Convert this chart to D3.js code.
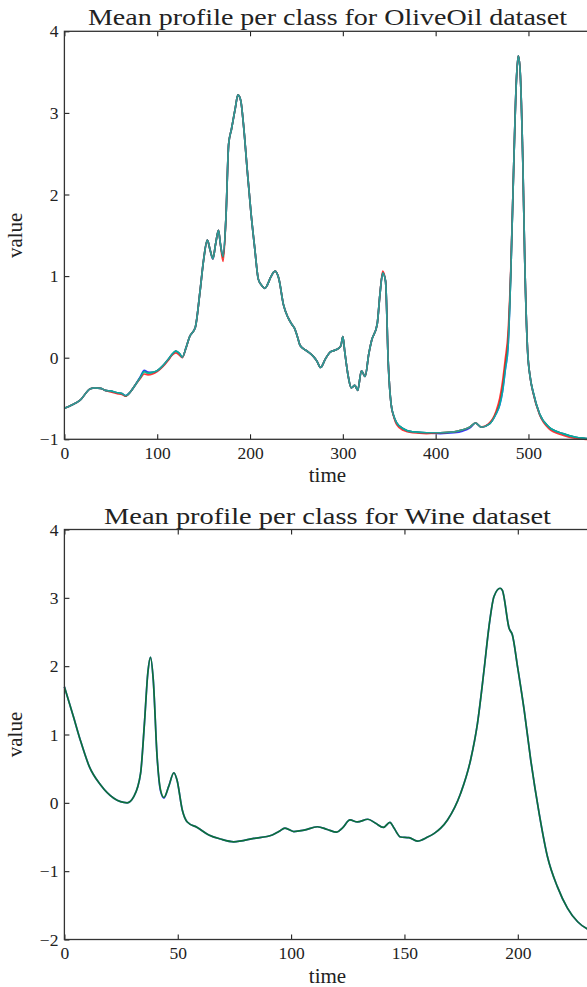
<!DOCTYPE html>
<html>
<head>
<meta charset="utf-8">
<script src="https://cdn.jsdelivr.net/npm/d3@7/dist/d3.min.js"></script>
<style>
  body { margin: 0; background: #fff; }
  svg { display: block; }
</style>
</head>
<body>
<svg id="chart" width="587" height="987"></svg>
<script>
// ---- OliveOil: mean spectrum of each class (4 classes) ----
const oliveTime = [0,8,17,28,33,39,44,50,57,62,
  66,71,76,82,86,90,95,100,106,112,
  116,120,124,127,131,135,141,146,150,154,
  157,160,163,166,168,171,174,177,180,184,
  187,190,193,197,201,205,209,213,216,219,
  222,227,231,236,241,245,248,251,254,261,
  268,272,276,281,286,291,295,298,300,302,
  306,309,313,316,320,324,328,331,337,340,
  343,346,349,352,355,358,365,375,390,405,
  420,429,437,443,449,458,465,469,472,475,
  478,481,484,487,489,491,494,496,499,502,
  505,512,522,537,551,562,569];

const oliveClass1 = [-0.62,-0.58,-0.52,-0.38,-0.37,-0.375,-0.40,-0.41,-0.43,-0.44,
  -0.465,-0.42,-0.34,-0.23,-0.155,-0.175,-0.18,-0.16,-0.10,-0.02,
  0.04,0.08,0.05,0.005,0.12,0.26,0.37,0.80,1.20,1.44,
  1.32,1.21,1.40,1.56,1.40,1.24,1.70,2.62,2.80,3.05,
  3.22,3.15,2.85,2.30,1.78,1.35,0.96,0.88,0.85,0.90,
  0.98,1.06,0.97,0.65,0.49,0.41,0.36,0.26,0.15,0.085,
  0.02,-0.04,-0.12,-0.02,0.065,0.09,0.11,0.15,0.26,0.08,
  -0.24,-0.37,-0.34,-0.40,-0.16,-0.23,0.05,0.21,0.41,0.78,
  1.04,0.94,-0.08,-0.57,-0.72,-0.80,-0.87,-0.91,-0.92,-0.93,
  -0.92,-0.90,-0.86,-0.80,-0.85,-0.81,-0.69,-0.58,-0.42,-0.15,
  0.13,1.05,2.30,3.40,3.70,3.52,2.37,1.20,0.10,-0.25,
  -0.42,-0.69,-0.85,-0.93,-0.975,-0.99,-1.0];

const oliveClass2 = [-0.62,-0.58,-0.52,-0.38,-0.37,-0.375,-0.40,-0.41,-0.43,-0.44,
  -0.47,-0.42,-0.34,-0.24,-0.17,-0.19,-0.18,-0.16,-0.10,-0.02,
  0.04,0.08,0.05,0.005,0.12,0.26,0.37,0.80,1.20,1.44,
  1.32,1.22,1.40,1.56,1.40,1.23,1.70,2.62,2.80,3.05,
  3.22,3.15,2.85,2.30,1.78,1.35,0.96,0.88,0.85,0.90,
  0.98,1.06,0.97,0.65,0.49,0.41,0.36,0.26,0.15,0.085,
  0.02,-0.04,-0.12,-0.02,0.065,0.09,0.11,0.15,0.26,0.08,
  -0.24,-0.37,-0.34,-0.40,-0.16,-0.23,0.05,0.21,0.41,0.78,
  1.04,0.94,-0.08,-0.57,-0.72,-0.80,-0.87,-0.91,-0.92,-0.92,
  -0.91,-0.885,-0.85,-0.80,-0.85,-0.81,-0.68,-0.56,-0.38,-0.10,
  0.20,1.05,2.30,3.40,3.70,3.52,2.37,1.20,0.10,-0.25,
  -0.42,-0.69,-0.85,-0.93,-0.975,-0.99,-1.0];

const oliveClass3 = [-0.62,-0.58,-0.52,-0.38,-0.37,-0.375,-0.40,-0.42,-0.44,-0.45,
  -0.47,-0.42,-0.34,-0.25,-0.20,-0.21,-0.20,-0.17,-0.11,-0.03,
  0.03,0.06,0.03,0.0,0.12,0.26,0.37,0.80,1.20,1.44,
  1.32,1.21,1.40,1.56,1.40,1.18,1.70,2.62,2.80,3.05,
  3.22,3.15,2.85,2.30,1.78,1.35,0.96,0.88,0.85,0.90,
  0.98,1.06,0.97,0.65,0.49,0.41,0.36,0.26,0.15,0.085,
  0.02,-0.04,-0.12,-0.02,0.065,0.09,0.11,0.15,0.26,0.08,
  -0.24,-0.37,-0.34,-0.40,-0.16,-0.23,0.05,0.21,0.41,0.78,
  1.06,0.94,-0.08,-0.57,-0.73,-0.82,-0.89,-0.92,-0.93,-0.92,
  -0.91,-0.885,-0.85,-0.80,-0.85,-0.80,-0.66,-0.50,-0.30,-0.02,
  0.30,1.10,2.30,3.40,3.70,3.52,2.37,1.20,0.10,-0.25,
  -0.43,-0.70,-0.87,-0.95,-0.99,-1.0,-1.0];

const oliveClass4 = [-0.62,-0.58,-0.52,-0.38,-0.37,-0.375,-0.40,-0.41,-0.43,-0.44,
  -0.465,-0.42,-0.34,-0.24,-0.17,-0.19,-0.18,-0.16,-0.10,-0.02,
  0.04,0.08,0.05,0.005,0.12,0.26,0.37,0.80,1.20,1.44,
  1.32,1.21,1.40,1.56,1.40,1.24,1.70,2.62,2.80,3.05,
  3.22,3.15,2.85,2.30,1.78,1.35,0.96,0.88,0.85,0.90,
  0.98,1.06,0.97,0.65,0.49,0.41,0.36,0.26,0.15,0.085,
  0.02,-0.04,-0.12,-0.02,0.065,0.09,0.11,0.15,0.26,0.08,
  -0.24,-0.37,-0.34,-0.40,-0.16,-0.23,0.05,0.21,0.41,0.78,
  1.04,0.94,-0.08,-0.57,-0.72,-0.80,-0.87,-0.91,-0.92,-0.92,
  -0.91,-0.885,-0.85,-0.80,-0.85,-0.81,-0.69,-0.58,-0.42,-0.15,
  0.13,1.05,2.30,3.40,3.70,3.52,2.37,1.20,0.10,-0.25,
  -0.42,-0.69,-0.85,-0.93,-0.975,-0.99,-1.0];

// ---- Wine: mean spectrum of each class (2 classes) ----
const wineTime = [0,4,7,11,16,21.8,27.7,30.6,33.6,35.3,
  36.8,38,39.2,40.9,42.4,43.9,46,48.3,49.7,52,
  54.2,58.6,63.7,68.9,74.7,83.6,91.7,94.6,97.3,101.2,
  105.7,111.6,116,120.1,122.6,126,129.2,133.9,137.3,140.7,
  143.6,145.4,148.3,152,155.7,160,163,166,169,174.8,
  179.2,182.2,185.1,187.3,189.5,192.2,193.2,196.2,197.6,199.9,
  202.8,205.7,209.4,213.1,217.5,221.9,226.4,230.9,233];

const wineClass1 = [1.70,1.26,0.92,0.53,0.26,0.066,0.0,0.09,0.43,1.16,
  1.90,2.13,1.80,0.67,0.175,0.07,0.24,0.44,0.33,-0.105,
  -0.28,-0.36,-0.47,-0.53,-0.57,-0.52,-0.47,-0.42,-0.37,-0.42,
  -0.40,-0.35,-0.39,-0.43,-0.37,-0.25,-0.28,-0.24,-0.30,-0.36,
  -0.285,-0.37,-0.50,-0.51,-0.56,-0.505,-0.45,-0.37,-0.25,0.14,
  0.63,1.16,1.94,2.58,3.02,3.14,3.11,2.55,2.46,1.99,
  1.36,0.63,-0.15,-0.79,-1.23,-1.54,-1.74,-1.85,-1.88];

const wineClass2 = [1.70,1.26,0.92,0.53,0.26,0.066,0.0,0.09,0.43,1.16,
  1.90,2.13,1.80,0.67,0.19,0.08,0.24,0.44,0.33,-0.105,
  -0.28,-0.36,-0.47,-0.53,-0.57,-0.52,-0.47,-0.42,-0.37,-0.42,
  -0.40,-0.35,-0.39,-0.43,-0.37,-0.25,-0.28,-0.24,-0.30,-0.36,
  -0.285,-0.37,-0.50,-0.51,-0.56,-0.505,-0.45,-0.37,-0.25,0.14,
  0.63,1.16,1.94,2.58,3.02,3.14,3.11,2.55,2.46,1.99,
  1.36,0.63,-0.15,-0.79,-1.23,-1.54,-1.74,-1.85,-1.88];

// ---- tick values ----
const oliveXTicks = [0, 100, 200, 300, 400, 500];
const oliveYTicks = [-1, 0, 1, 2, 3, 4];
const wineXTicks = [0, 50, 100, 150, 200];
const wineYTicks = [-2, -1, 0, 1, 2, 3, 4];

// class colours in plotting order
const classColors = ["#0000ff", "#008000", "#ff0000", "#00bfbf"];

const FONT = '"Liberation Serif", "Times New Roman", serif';
const svg = d3.select("#chart");
const fmt = (d) => (d < 0 ? "\u2212" + Math.abs(d) : String(d));

function drawPanel(cfg) {
  const x = d3.scaleLinear().domain(cfg.xDomain).range([cfg.left, cfg.right]);
  const y = d3.scaleLinear().domain(cfg.yDomain).range([cfg.bottom, cfg.top]);
  const g = svg.append("g");

  const line = d3.line()
    .x((d) => x(d[0]))
    .y((d) => y(d[1]))
    .curve(d3.curveMonotoneX);

  // semi-transparent strokes so overlapping class means blend together
  cfg.series.forEach((vals, i) => {
    g.append("path")
      .datum(cfg.time.map((t, j) => [t, vals[j]]))
      .attr("d", line)
      .attr("fill", "none")
      .attr("stroke", classColors[i])
      .attr("stroke-opacity", 0.78)
      .attr("stroke-width", 1.7)
      .attr("stroke-linejoin", "round");
  });

  const tickLen = 5;
  const styleAxis = (sel) => {
    sel.select(".domain").remove();
    sel.selectAll(".tick line").attr("stroke", "#222").attr("stroke-width", 1.1);
    sel.selectAll(".tick text")
      .attr("fill", "#222")
      .style("font-family", FONT)
      .style("font-size", "17.5px");
  };

  g.append("g").attr("transform", `translate(0,${cfg.bottom})`)
    .call(d3.axisBottom(x).tickValues(cfg.xTicks).tickSizeInner(-tickLen)
      .tickSizeOuter(0).tickPadding(7).tickFormat(fmt))
    .call(styleAxis);
  g.append("g").attr("transform", `translate(0,${cfg.top})`)
    .call(d3.axisTop(x).tickValues(cfg.xTicks).tickSizeInner(-tickLen)
      .tickSizeOuter(0).tickFormat(""))
    .call(styleAxis);
  g.append("g").attr("transform", `translate(${cfg.left},0)`)
    .call(d3.axisLeft(y).tickValues(cfg.yTicks).tickSizeInner(-tickLen)
      .tickSizeOuter(0).tickPadding(6).tickFormat(fmt))
    .call(styleAxis);
  g.append("g").attr("transform", `translate(${cfg.right},0)`)
    .call(d3.axisRight(y).tickValues(cfg.yTicks).tickSizeInner(-tickLen)
      .tickSizeOuter(0).tickFormat(""))
    .call(styleAxis);

  // axes frame
  g.append("rect")
    .attr("x", cfg.left).attr("y", cfg.top)
    .attr("width", cfg.right - cfg.left).attr("height", cfg.bottom - cfg.top)
    .attr("fill", "none").attr("stroke", "#333").attr("stroke-width", 1.3);

  const cx = (cfg.left + cfg.right) / 2;
  g.append("text")
    .attr("x", cx - 1).attr("y", cfg.top - 6)
    .attr("text-anchor", "middle")
    .attr("textLength", cfg.titleWidth).attr("lengthAdjust", "spacingAndGlyphs")
    .style("font-family", FONT).style("font-size", "23px").attr("fill", "#222")
    .text(cfg.title);

  g.append("text")
    .attr("x", cx - 1).attr("y", cfg.bottom + 43)
    .attr("text-anchor", "middle")
    .style("font-family", FONT).style("font-size", "21px").attr("fill", "#222")
    .text("time");

  g.append("text")
    .attr("transform", `translate(${cfg.left - 42},${(cfg.top + cfg.bottom) / 2}) rotate(-90)`)
    .attr("text-anchor", "middle")
    .style("font-family", FONT).style("font-size", "21px").attr("fill", "#222")
    .text("value");
}

drawPanel({
  title: "Mean profile per class for OliveOil dataset",
  titleWidth: 479,
  time: oliveTime,
  series: [oliveClass1, oliveClass2, oliveClass3, oliveClass4],
  xDomain: [0, 569], yDomain: [-1, 4],
  xTicks: oliveXTicks, yTicks: oliveYTicks,
  left: 64.4, right: 592.5, top: 31.3, bottom: 439.3
});

drawPanel({
  title: "Mean profile per class for Wine dataset",
  titleWidth: 447,
  time: wineTime,
  series: [wineClass1, wineClass2],
  xDomain: [0, 233], yDomain: [-2, 4],
  xTicks: wineXTicks, yTicks: wineYTicks,
  left: 64.4, right: 592.6, top: 529.5, bottom: 939.5
});
</script>
</body>
</html>
